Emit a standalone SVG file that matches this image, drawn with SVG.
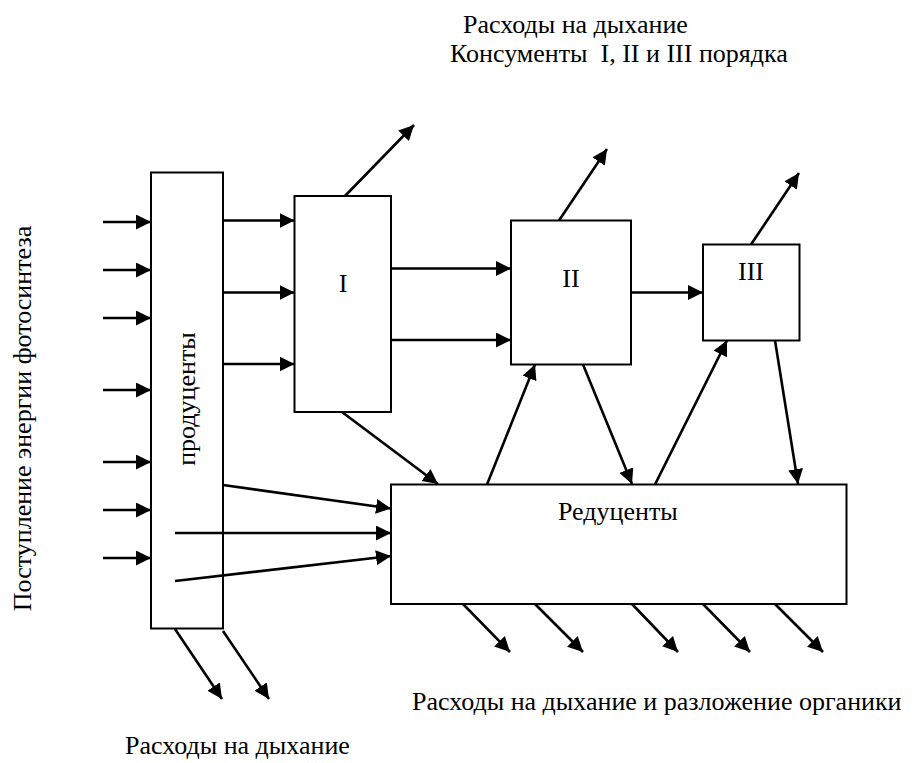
<svg xmlns="http://www.w3.org/2000/svg" width="919" height="763" viewBox="0 0 919 763">
<defs>
<style>
.box{fill:#fff;stroke:#000;stroke-width:2}
.t{font-family:"Liberation Serif","Times New Roman",serif;font-size:26px;fill:#000}
.c line{stroke:#000;stroke-width:2.6;marker-end:url(#ah)}
</style>
<marker id="ah" markerUnits="userSpaceOnUse" markerWidth="16" markerHeight="16" refX="15" refY="7.5" orient="auto" viewBox="0 0 16 16">
<path d="M0,0 L15,7.5 L0,15 z" fill="#000"/>
</marker>
</defs>
<rect width="919" height="763" fill="#fff"/>

<g id="producers">
<rect class="box" x="151" y="172.5" width="72" height="456"/>
<text class="t" transform="translate(195,399) rotate(-90)" text-anchor="middle">продуценты</text>
</g>
<g id="consumer1">
<rect class="box" x="294.5" y="196" width="96.5" height="216"/>
<text class="t" x="343" y="292" text-anchor="middle">I</text>
</g>
<g id="consumer2">
<rect class="box" x="511" y="220.5" width="120" height="144"/>
<text class="t" x="571" y="286.5" text-anchor="middle">II</text>
</g>
<g id="consumer3">
<rect class="box" x="703" y="244.5" width="96.5" height="96"/>
<text class="t" x="751" y="280" text-anchor="middle">III</text>
</g>
<g id="reducers">
<rect class="box" x="391" y="484.5" width="455.5" height="119.5"/>
<text class="t" x="558" y="520">Редуценты</text>
</g>

<g id="connectors" class="c">
<line x1="103" y1="222" x2="151" y2="222"/>
<line x1="103" y1="270" x2="151" y2="270"/>
<line x1="103" y1="318" x2="151" y2="318"/>
<line x1="103" y1="390" x2="151" y2="390"/>
<line x1="103" y1="462" x2="151" y2="462"/>
<line x1="103" y1="510" x2="151" y2="510"/>
<line x1="103" y1="558" x2="151" y2="558"/>

<line x1="223" y1="220.5" x2="294.5" y2="220.5"/>
<line x1="223" y1="292.5" x2="294.5" y2="292.5"/>
<line x1="223" y1="364" x2="294.5" y2="364"/>

<line x1="391" y1="268.5" x2="511" y2="268.5"/>
<line x1="391" y1="340" x2="511" y2="340"/>
<line x1="631" y1="292.5" x2="703" y2="292.5"/>

<line x1="345" y1="196" x2="414" y2="125"/>
<line x1="559" y1="220.5" x2="607" y2="149"/>
<line x1="751" y1="244.5" x2="799" y2="173"/>

<line x1="342" y1="412" x2="438" y2="484"/>
<line x1="223" y1="485" x2="391" y2="508.5"/>
<line x1="175" y1="533" x2="391" y2="533"/>
<line x1="175" y1="581" x2="391" y2="556"/>

<line x1="487" y1="484.5" x2="535" y2="364.5"/>
<line x1="583" y1="364.5" x2="632" y2="484"/>
<line x1="655" y1="484.5" x2="727" y2="340.5"/>
<line x1="775" y1="340.5" x2="798" y2="484"/>

<line x1="463" y1="604" x2="510" y2="652"/>
<line x1="535" y1="604" x2="583" y2="652"/>
<line x1="632" y1="604" x2="678" y2="652"/>
<line x1="703" y1="604" x2="750" y2="652"/>
<line x1="775" y1="604" x2="823" y2="652"/>

<line x1="175" y1="629" x2="222" y2="699"/>
<line x1="223" y1="631" x2="269" y2="699"/>
</g>

<g id="labels">
<text class="t" x="463" y="33">Расходы на дыхание</text>
<text class="t" x="450" y="61.5" xml:space="preserve">Консументы  I, II и III порядка</text>
<text class="t" x="412" y="710">Расходы на дыхание и разложение органики</text>
<text class="t" x="125" y="754">Расходы на дыхание</text>
<text class="t" transform="translate(30.5,418.5) rotate(-90)" text-anchor="middle">Поступление энергии фотосинтеза</text>
</g>
</svg>
